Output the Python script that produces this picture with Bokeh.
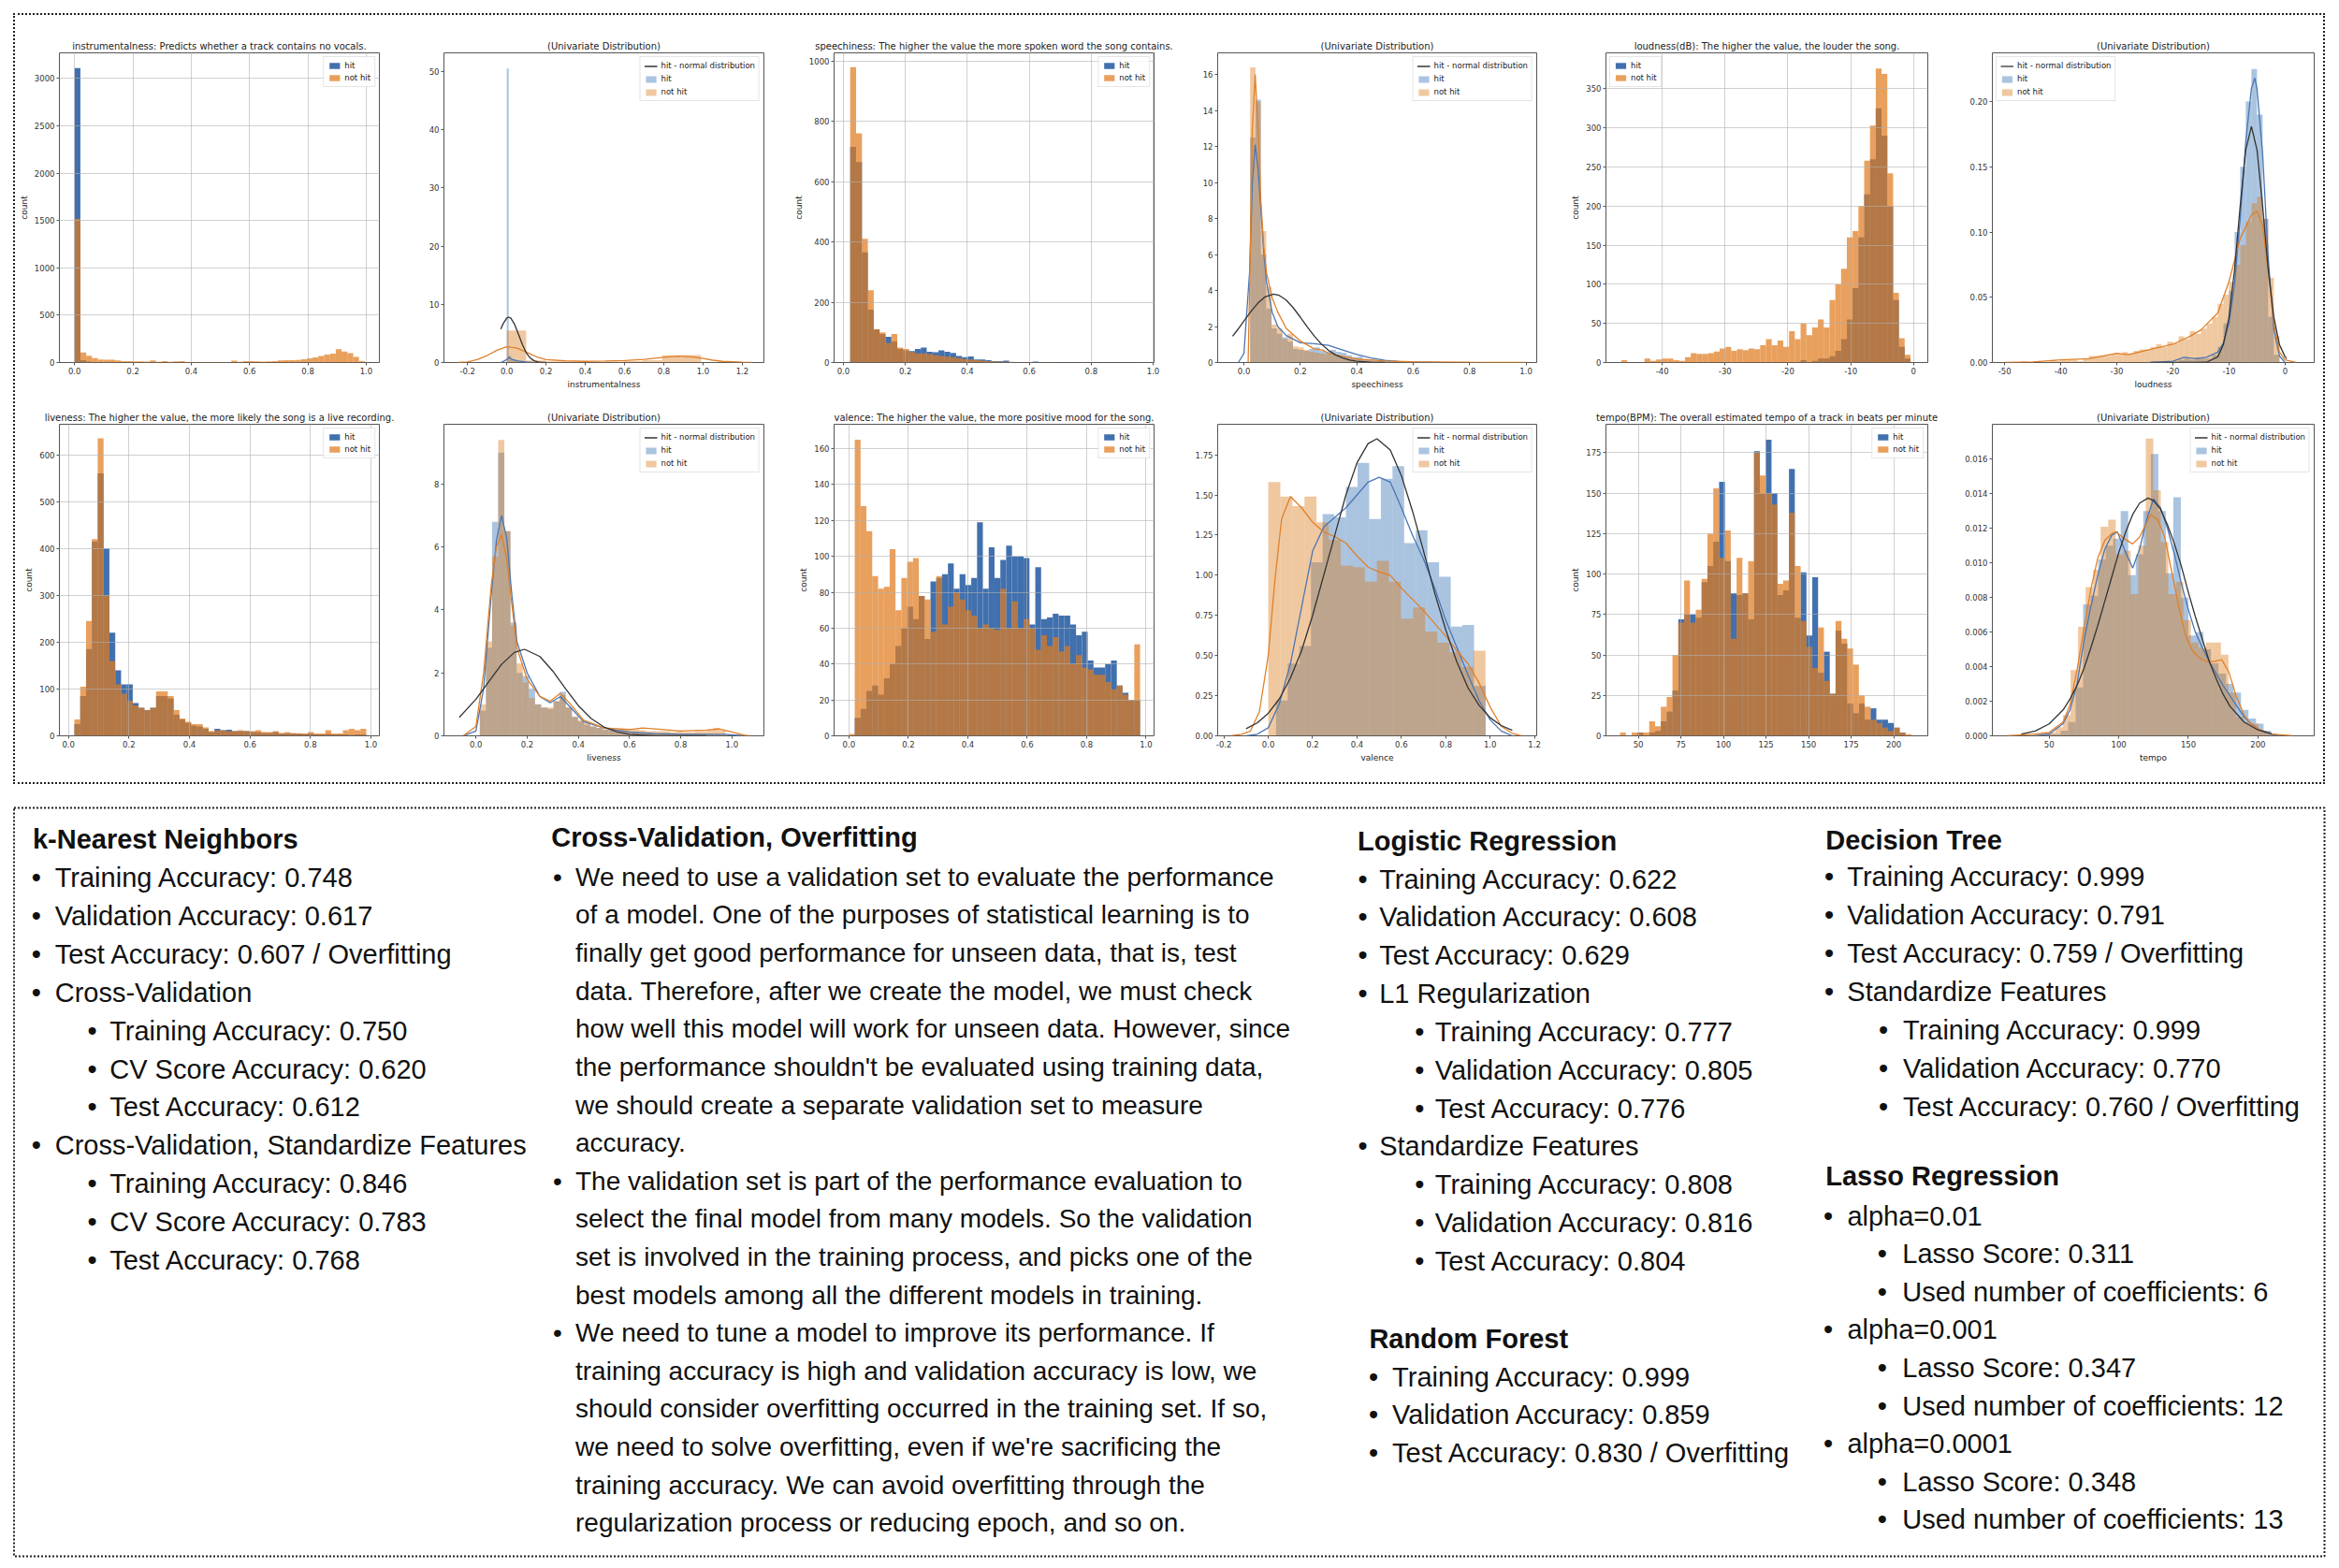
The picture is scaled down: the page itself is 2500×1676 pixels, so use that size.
import numpy as np
from bokeh.plotting import figure
from bokeh.layouts import column, row
from bokeh.models import Range1d, FixedTicker, PrintfTickFormatter, Legend, LegendItem, BoxAnnotation
from bokeh.core.properties import value
from bokeh.embed import file_html
from bokeh.resources import INLINE

# ------------------------------------------------------------------ texts
HIT, NOT_HIT, NORMAL = "hit", "not hit", "hit - normal distribution"
UNIV = "(Univariate Distribution)"
COUNT = "count"

# ------------------------------------------------------------------ instrumentalness
instr_title = "instrumentalness: Predicts whether a track contains no vocals."
instr_bins = (0.0, 0.0199)  # first edge, bin width
instr_hit = [3110, 25, 10, 6, 4, 3, 2, 2, 1, 1, 1, 1, 0, 1, 0, 0, 0, 0, 0, 0,
             0, 0, 0, 0, 0, 0, 0, 0, 0, 0, 0, 0, 0, 0, 0, 0, 0, 0, 0, 0,
             0, 0, 0, 0, 0, 0, 0, 0, 0, 0]
instr_not = [1520, 105, 72, 46, 33, 30, 30, 22, 15, 15, 12, 12, 10, 22, 8, 14, 8, 12, 14, 6,
             5, 5, 4, 4, 5, 4, 5, 20, 8, 15, 14, 12, 10, 12, 15, 22, 25, 25, 28, 35,
             45, 55, 70, 85, 95, 140, 115, 100, 60, 15]
instr_d_hit_bins = (0.0, 0.0099)
instr_d_hit = [50.5, 1.2, 0.7, 0.5, 0.4, 0.3, 0.2, 0.15, 0.1, 0.08, 0.05, 0.05]
instr_d_not_bins = (0.0, 0.099)
instr_d_not = [5.5, 0.35, 0.2, 0.12, 0.08, 0.15, 0.25, 0.4, 1.25, 1.3]
instr_kde_hit_x = [-0.03, 0.0, 0.01, 0.03, 0.06, 0.1, 0.13]
instr_kde_hit_y = [0, 0.5, 0.9, 0.5, 0.25, 0.08, 0]
instr_kde_not_x = [-0.25, -0.2, -0.15, -0.1, -0.05, 0.0, 0.05, 0.1, 0.15, 0.2, 0.3, 0.4, 0.5, 0.6,
                   0.7, 0.8, 0.87, 0.95, 1.0, 1.05, 1.1, 1.2, 1.25]
instr_kde_not_y = [0, 0.1, 0.5, 1.2, 2.1, 2.7, 2.5, 1.8, 1.0, 0.5, 0.28, 0.2, 0.25, 0.35,
                   0.55, 0.9, 1.1, 0.95, 0.7, 0.4, 0.2, 0.05, 0]
instr_norm_x = [-0.03, -0.02, 0.0, 0.01, 0.02, 0.04, 0.06, 0.08, 0.1, 0.12, 0.14, 0.16, 0.18, 0.2]
instr_norm_y = [5.73, 6.56, 7.65, 7.8, 7.65, 6.56, 4.83, 3.04, 1.64, 0.76, 0.30, 0.10, 0.03, 0.008]

# ------------------------------------------------------------------ speechiness
speech_title = "speechiness: The higher the value the more spoken word the song contains."
speech_bins = (0.022, 0.019)
speech_hit = [715, 665, 365, 175, 110, 95, 85, 70, 45, 40, 38, 45, 50, 36, 34, 40, 36, 32, 22, 18,
              20, 10, 10, 8, 5, 5, 6, 1, 1, 0, 0, 3, 0, 0, 0, 0, 0, 0, 0, 0,
              0, 0, 0, 0, 0, 0, 0, 0, 0, 0]
speech_not = [980, 760, 410, 240, 110, 100, 65, 95, 50, 45, 35, 30, 30, 28, 25, 22, 20, 18, 15, 12,
              10, 8, 6, 5, 4, 3, 2, 2, 1, 1, 1, 1, 1, 1, 1, 0, 0, 0, 0, 1,
              0, 0, 0, 0, 0, 0, 0, 0, 0, 1]
speech_d_bins = (0.022, 0.019)
speech_d_hit = [12.5, 14.6, 6.0, 3.0, 1.9, 1.6, 1.4, 1.15, 0.75, 0.7, 0.65, 0.75, 0.85, 0.65, 0.6,
                0.7, 0.6, 0.55, 0.4, 0.3, 0.33, 0.2, 0.17, 0.12, 0.08, 0.08, 0.05, 0.02, 0.02, 0.0]
speech_d_not = [16.4, 14.5, 7.3, 4.2, 2.1, 1.9, 1.3, 1.6, 0.9, 0.85, 0.7, 0.6, 0.55, 0.5, 0.45,
                0.4, 0.35, 0.3, 0.25, 0.22, 0.18, 0.14, 0.1, 0.08, 0.06, 0.05, 0.04, 0.03, 0.02, 0.02]
speech_kde_hit_x = [-0.02, 0.0, 0.02, 0.03, 0.04, 0.05, 0.06, 0.07, 0.08, 0.1, 0.12, 0.15, 0.2, 0.25,
                    0.3, 0.35, 0.4, 0.45, 0.5, 0.55, 0.6, 0.7]
speech_kde_hit_y = [0, 0.5, 5.0, 10.0, 12.1, 10.8, 8.5, 6.2, 4.5, 2.8, 2.0, 1.5, 1.1, 1.05,
                    0.95, 0.7, 0.45, 0.25, 0.12, 0.06, 0.03, 0]
speech_kde_not_x = [0.015, 0.02, 0.03, 0.04, 0.05, 0.06, 0.07, 0.08, 0.1, 0.12, 0.15, 0.2, 0.25,
                    0.28, 0.3, 0.35, 0.4, 0.5, 0.6, 0.8, 1.0]
speech_kde_not_y = [0, 4, 13, 16, 13, 9, 6.5, 5, 3.6, 2.8, 1.9, 1.2, 0.75, 0.7, 0.5, 0.35, 0.2,
                    0.08, 0.04, 0.015, 0]
speech_norm_x = [-0.04, -0.02, 0.0, 0.025, 0.05, 0.075, 0.105, 0.125, 0.15, 0.175, 0.2, 0.225, 0.25,
                 0.275, 0.3, 0.325, 0.35, 0.375, 0.4, 0.45, 0.5]
speech_norm_y = [1.46, 1.87, 2.3, 2.84, 3.31, 3.65, 3.8, 3.73, 3.47, 3.04, 2.52, 1.97, 1.46,
                 1.02, 0.67, 0.42, 0.25, 0.14, 0.072, 0.017, 0.003]

# ------------------------------------------------------------------ loudness
loud_title = "loudness(dB): The higher the value, the louder the song."
loud_bins = (-46.5, 0.92)
loud_hit = [0, 0, 0, 0, 0, 0, 0, 0, 0, 0, 0, 0, 0, 0, 0, 0, 0, 0, 0, 0,
            0, 0, 0, 0, 0, 0, 0, 0, 0, 0, 0, 3, 0, 2, 5, 5, 8, 15, 30, 55,
            95, 160, 215, 260, 325, 290, 200, 80, 20, 5]
loud_not = [3, 0, 0, 0, 5, 2, 4, 5, 5, 3, 2, 7, 12, 11, 11, 12, 14, 18, 20, 15,
            17, 16, 18, 17, 22, 30, 22, 28, 20, 40, 30, 50, 35, 45, 55, 45, 80, 100, 120, 160,
            168, 200, 258, 303, 376, 369, 242, 89, 31, 10]
loud_d_hit_bins = (-25.0, 1.0)
loud_d_hit = [0, 0, 0, 0, 0, 0, 0.002, 0.003, 0.002, 0.004, 0.003, 0.003, 0.006, 0.012, 0.03,
              0.055, 0.1, 0.15, 0.2, 0.225, 0.19, 0.11, 0.035, 0.006]
loud_d_not_bins = (-47.0, 1.0)
loud_d_not = [0.001, 0, 0, 0, 0, 0.002, 0.001, 0.002, 0.002, 0.002, 0.001, 0.003, 0.005, 0.005,
              0.005, 0.005, 0.006, 0.006, 0.008, 0.007, 0.009, 0.01, 0.01, 0.012, 0.014, 0.012,
              0.016, 0.015, 0.02, 0.018, 0.024, 0.022, 0.026, 0.03, 0.035, 0.045, 0.052, 0.062,
              0.075, 0.09, 0.108, 0.122, 0.127, 0.11, 0.065, 0.02]
loud_kde_hit_x = [-24, -20, -18, -16, -14, -12, -11, -10, -9, -8, -7, -6, -5.4, -5, -4, -3, -2, -1, 0]
loud_kde_hit_y = [0, 0.001, 0.004, 0.003, 0.004, 0.008, 0.015, 0.03, 0.06, 0.11, 0.17, 0.21, 0.218,
                  0.21, 0.16, 0.08, 0.025, 0.005, 0]
loud_kde_not_x = [-50, -45, -40, -35, -30, -28, -25, -20, -17, -15, -12, -10, -8, -6, -5, -4, -3, -2,
                  -1, 0, 2]
loud_kde_not_y = [0, 0.0005, 0.002, 0.003, 0.007, 0.006, 0.009, 0.014, 0.02, 0.025, 0.038, 0.062,
                  0.095, 0.113, 0.116, 0.105, 0.07, 0.03, 0.008, 0.002, 0]
loud_norm_x = [-24, -16, -14, -12, -11, -10, -9, -8, -7, -6, -5, -4, -3, -2, -1, 0, 0.3]
loud_norm_y = [0, 0.00001, 0.0002, 0.0044, 0.0137, 0.0347, 0.0713, 0.12, 0.163, 0.181, 0.163, 0.12,
               0.0713, 0.0347, 0.0137, 0.0044, 0.003]

# ------------------------------------------------------------------ liveness
live_title = "liveness: The higher the value, the more likely the song is a live recording."
live_bins = (0.0195, 0.0193)
live_hit = [25, 85, 185, 415, 560, 400, 220, 140, 110, 110, 70, 60, 55, 60, 85, 85, 80, 45, 35, 28,
            22, 20, 15, 8, 15, 12, 13, 10, 10, 10, 8, 8, 6, 6, 8, 5, 5, 5, 5, 4,
            5, 3, 3, 4, 3, 3, 3, 2, 3, 3]
live_not = [35, 105, 245, 420, 635, 300, 160, 110, 90, 75, 65, 60, 55, 60, 95, 95, 85, 55, 37, 30,
            25, 25, 18, 10, 12, 12, 10, 10, 12, 10, 10, 12, 8, 8, 10, 6, 8, 6, 5, 5,
            8, 5, 5, 12, 5, 5, 12, 15, 12, 15]
live_d_bins = (0.015, 0.024)
live_d_hit = [0.8, 2.8, 6.8, 9.0, 6.5, 3.6, 2.0, 1.9, 1.5, 1.0, 0.9, 0.85, 1.1, 1.4, 0.9, 0.6, 0.45,
              0.35, 0.3, 0.25, 0.2, 0.18, 0.15, 0.15, 0.12, 0.12, 0.1, 0.1, 0.08, 0.08, 0.08, 0.06,
              0.06, 0.05, 0.05, 0.05, 0.04, 0.04, 0.03, 0.03]
live_d_not = [1.0, 3.0, 5.7, 9.4, 6.5, 3.5, 2.3, 1.7, 1.2, 1.0, 0.9, 0.9, 1.1, 1.3, 0.9, 0.6, 0.5,
              0.4, 0.3, 0.25, 0.2, 0.2, 0.2, 0.2, 0.2, 0.2, 0.18, 0.15, 0.15, 0.15, 0.15, 0.12,
              0.15, 0.12, 0.12, 0.15, 0.15, 0.2, 0.25, 0.18]
live_kde_hit_x = [-0.05, 0.0, 0.03, 0.06, 0.08, 0.1, 0.12, 0.14, 0.16, 0.2, 0.25, 0.29, 0.33, 0.37,
                  0.42, 0.5, 0.6, 0.7, 0.8, 0.9, 0.97, 1.05]
live_kde_hit_y = [0, 0.15, 1.5, 4.5, 6.2, 7.0, 6.3, 4.5, 3.0, 2.0, 1.25, 1.05, 1.25, 0.9, 0.45, 0.25,
                  0.12, 0.07, 0.05, 0.05, 0.05, 0]
live_kde_not_x = [-0.05, 0.0, 0.03, 0.06, 0.08, 0.1, 0.12, 0.14, 0.16, 0.2, 0.25, 0.29, 0.33, 0.37,
                  0.42, 0.5, 0.6, 0.65, 0.7, 0.8, 0.9, 0.95, 1.0, 1.05, 1.07]
live_kde_not_y = [0, 0.3, 2.0, 4.8, 6.0, 6.4, 5.6, 4.2, 2.8, 1.8, 1.25, 1.1, 1.35, 1.0, 0.5, 0.25,
                  0.2, 0.25, 0.22, 0.15, 0.18, 0.22, 0.12, 0.02, 0]
live_norm_x = [-0.065, 0.0, 0.05, 0.1, 0.15, 0.19, 0.25, 0.3, 0.35, 0.4, 0.45, 0.5, 0.55, 0.6, 0.7,
               0.8, 0.9]
live_norm_y = [0.586, 1.165, 1.72, 2.27, 2.65, 2.75, 2.52, 2.06, 1.5, 0.96, 0.55, 0.28, 0.127, 0.05,
               0.006, 0.0004, 0]

# ------------------------------------------------------------------ valence
val_title = "valence: The higher the value, the more positive mood for the song."
val_bins = (0.0, 0.0196)
val_hit = [0, 10, 15, 25, 28, 23, 32, 40, 50, 60, 72, 65, 78, 54, 86, 88, 90, 96, 82, 90,
           84, 88, 119, 82, 105, 88, 98, 106, 100, 100, 99, 62, 94, 65, 66, 68, 67, 67, 62, 56,
           58, 42, 38, 38, 40, 42, 28, 24, 20, 20]
val_not = [1, 165, 128, 114, 89, 82, 83, 104, 70, 88, 97, 99, 78, 76, 58, 89, 62, 72, 80, 76,
           70, 67, 60, 62, 60, 59, 82, 60, 75, 60, 65, 60, 48, 56, 50, 55, 47, 50, 40, 45,
           38, 37, 34, 34, 30, 26, 28, 23, 20, 51]
val_d_hit_bins = (0.035, 0.0525)
val_d_hit = [0.22, 0.45, 0.56, 1.08, 1.38, 1.36, 1.55, 1.70, 1.35, 1.60, 1.68, 1.20, 1.28, 1.08,
             0.99, 0.68, 0.69, 0.31]
val_d_not_bins = (0.0, 0.0544)
val_d_not = [1.58, 1.49, 1.43, 1.49, 1.33, 1.22, 1.06, 1.05, 0.96, 1.09, 0.96, 0.73, 0.80, 0.65,
             0.58, 0.52, 0.43, 0.53]
val_kde_hit_x = [-0.1, -0.05, 0.0, 0.05, 0.1, 0.15, 0.2, 0.25, 0.3, 0.35, 0.4, 0.45, 0.5, 0.55, 0.6,
                 0.65, 0.7, 0.75, 0.8, 0.85, 0.9, 0.95, 1.0, 1.05, 1.1]
val_kde_hit_y = [0, 0.01, 0.05, 0.2, 0.45, 0.8, 1.15, 1.3, 1.36, 1.42, 1.5, 1.58, 1.61, 1.58, 1.42,
                 1.25, 1.1, 0.92, 0.72, 0.55, 0.38, 0.22, 0.1, 0.03, 0]
val_kde_not_x = [-0.17, -0.12, -0.08, -0.04, 0.0, 0.03, 0.06, 0.1, 0.15, 0.2, 0.25, 0.3, 0.35, 0.4,
                 0.45, 0.5, 0.55, 0.6, 0.65, 0.7, 0.75, 0.8, 0.85, 0.9, 0.95, 1.0, 1.05, 1.1, 1.14]
val_kde_not_y = [0, 0.01, 0.03, 0.15, 0.5, 0.97, 1.35, 1.49, 1.42, 1.33, 1.27, 1.24, 1.2, 1.12,
                 1.05, 1.02, 1.0, 0.92, 0.85, 0.78, 0.7, 0.62, 0.53, 0.45, 0.33, 0.18, 0.06, 0.015, 0]
val_norm_x = [-0.1, -0.05, 0.0, 0.05, 0.1, 0.15, 0.2, 0.25, 0.3, 0.35, 0.4, 0.45, 0.49, 0.55, 0.6,
              0.65, 0.7, 0.75, 0.8, 0.85, 0.9, 0.95, 1.0, 1.05, 1.1]
val_norm_y = [0.044, 0.08, 0.14, 0.23, 0.36, 0.53, 0.75, 1.0, 1.25, 1.5, 1.7, 1.82, 1.85, 1.78, 1.62,
              1.4, 1.15, 0.89, 0.66, 0.46, 0.30, 0.19, 0.113, 0.064, 0.034]

# ------------------------------------------------------------------ tempo
tempo_title = "tempo(BPM): The overall estimated tempo of a track in beats per minute"
tempo_bins = (39.3, 3.42)
tempo_hit = [0, 0, 0, 2, 0, 2, 3, 9, 15, 28, 72, 75, 75, 73, 95, 105, 120, 157, 108, 88,
             87, 88, 72, 176, 150, 183, 150, 87, 90, 165, 73, 101, 62, 98, 39, 52, 26, 65, 57, 20,
             14, 20, 10, 17, 10, 10, 8, 5, 2, 0]
tempo_not = [2, 0, 2, 2, 2, 9, 6, 18, 24, 50, 70, 96, 70, 78, 97, 125, 153, 110, 127, 60,
             110, 88, 108, 175, 161, 150, 143, 94, 96, 138, 105, 71, 55, 42, 67, 34, 26, 71, 60, 54,
             44, 25, 18, 10, 8, 5, 3, 5, 2, 1]
tempo_d_hit_bins = (42.0, 5.4)
tempo_d_hit = [0, 0.0001, 0.0001, 0.0003, 0.0008, 0.0028, 0.0076, 0.0081, 0.0102, 0.0110, 0.0114,
               0.0130, 0.0093, 0.0105, 0.0130, 0.0163, 0.0130, 0.0094, 0.0138, 0.0080, 0.0058,
               0.0060, 0.0050, 0.0042, 0.0036, 0.0030, 0.0025, 0.0015, 0.0010, 0.0007, 0.0003,
               0.0001]
tempo_d_not_bins = (38.4, 5.4)
tempo_d_not = [0.0001, 0.0002, 0.0002, 0.0005, 0.0012, 0.0038, 0.0063, 0.0086, 0.0096, 0.0121,
               0.0125, 0.0105, 0.0107, 0.0082, 0.0110, 0.0172, 0.0142, 0.0112, 0.0082, 0.0089,
               0.0067, 0.0054, 0.0051, 0.0054, 0.0054, 0.0047, 0.0025, 0.0011, 0.0008, 0.0007,
               0.0003, 0.0001]
tempo_kde_hit_x = [40, 50, 60, 65, 70, 75, 80, 85, 90, 95, 99, 104, 110, 115, 120, 125, 130, 135,
                   140, 145, 150, 155, 160, 165, 170, 175, 180, 185, 190, 195, 200, 205, 210, 215]
tempo_kde_hit_y = [0, 0.0001, 0.0007, 0.0015, 0.003, 0.0055, 0.0075, 0.0093, 0.0108, 0.0116, 0.0118,
                   0.0108, 0.0097, 0.0108, 0.0125, 0.0137, 0.0132, 0.012, 0.0105, 0.0088, 0.0073,
                   0.006, 0.0051, 0.0043, 0.0036, 0.0029, 0.0023, 0.0017, 0.0011, 0.0007, 0.0004,
                   0.0002, 0.0001, 0]
tempo_kde_not_x = [20, 40, 50, 60, 65, 70, 75, 80, 85, 90, 95, 98, 104, 110, 115, 118, 123, 128, 133,
                   138, 143, 148, 153, 158, 163, 168, 174, 179, 184, 190, 195, 200, 210, 225]
tempo_kde_not_y = [0, 0.0001, 0.0002, 0.0008, 0.0018, 0.0038, 0.0062, 0.0085, 0.0103, 0.0113,
                   0.0117, 0.0118, 0.0114, 0.0111, 0.0115, 0.012, 0.0128, 0.0125, 0.0115, 0.0095,
                   0.0075, 0.0058, 0.0049, 0.0045, 0.0043, 0.0043, 0.0044, 0.0037, 0.0024, 0.0012,
                   0.0007, 0.0004, 0.0001, 0]
tempo_norm_x = [30, 40, 50, 60, 65, 70, 75, 80, 85, 90, 95, 100, 105, 110, 115, 121, 125, 130, 135,
                140, 145, 150, 155, 160, 165, 170, 175, 180, 190, 200, 210]
tempo_norm_y = [0.0001, 0.00028, 0.00069, 0.0015, 0.00213, 0.0029, 0.0039, 0.0051, 0.0064, 0.0078,
                0.0092, 0.0106, 0.0118, 0.0128, 0.01346, 0.01375, 0.0136, 0.0131, 0.0122, 0.0111,
                0.0098, 0.0083, 0.0069, 0.0056, 0.0043, 0.0033, 0.0024, 0.0017, 0.0008, 0.00034,
                0.00012]

# ------------------------------------------------------------------ model summary texts
knn_head = "k-Nearest Neighbors"
knn_items = [(0, True, "Training Accuracy: 0.748"), (0, True, "Validation Accuracy: 0.617"),
             (0, True, "Test Accuracy: 0.607 / Overfitting"), (0, True, "Cross-Validation"),
             (1, True, "Training Accuracy: 0.750"), (1, True, "CV Score Accuracy: 0.620"),
             (1, True, "Test Accuracy: 0.612"), (0, True, "Cross-Validation, Standardize Features"),
             (1, True, "Training Accuracy: 0.846"), (1, True, "CV Score Accuracy: 0.783"),
             (1, True, "Test Accuracy: 0.768")]
cv_head = "Cross-Validation, Overfitting"
cv_items = [(0, True, "We need to use a validation set to evaluate the performance"),
            (0, False, "of a model. One of the purposes of statistical learning is to"),
            (0, False, "finally get good performance for unseen data, that is, test"),
            (0, False, "data. Therefore, after we create the model, we must check"),
            (0, False, "how well this model will work for unseen data. However, since"),
            (0, False, "the performance shouldn't be evaluated using training data,"),
            (0, False, "we should create a separate validation set to measure"),
            (0, False, "accuracy."),
            (0, True, "The validation set is part of the performance evaluation to"),
            (0, False, "select the final model from many models. So the validation"),
            (0, False, "set is involved in the training process, and picks one of the"),
            (0, False, "best models among all the different models in training."),
            (0, True, "We need to tune a model to improve its performance. If"),
            (0, False, "training accuracy is high and validation accuracy is low, we"),
            (0, False, "should consider overfitting occurred in the training set. If so,"),
            (0, False, "we need to solve overfitting, even if we're sacrificing the"),
            (0, False, "training accuracy. We can avoid overfitting through the"),
            (0, False, "regularization process or reducing epoch, and so on.")]
logreg_head = "Logistic Regression"
logreg_items = [(0, True, "Training Accuracy: 0.622"), (0, True, "Validation Accuracy: 0.608"),
                (0, True, "Test Accuracy: 0.629"), (0, True, "L1 Regularization"),
                (1, True, "Training Accuracy: 0.777"), (1, True, "Validation Accuracy: 0.805"),
                (1, True, "Test Accuracy: 0.776"), (0, True, "Standardize Features"),
                (1, True, "Training Accuracy: 0.808"), (1, True, "Validation Accuracy: 0.816"),
                (1, True, "Test Accuracy: 0.804")]
rf_head = "Random Forest"
rf_items = [(0, True, "Training Accuracy: 0.999"), (0, True, "Validation Accuracy: 0.859"),
            (0, True, "Test Accuracy: 0.830 / Overfitting")]
dt_head = "Decision Tree"
dt_items = [(0, True, "Training Accuracy: 0.999"), (0, True, "Validation Accuracy: 0.791"),
            (0, True, "Test Accuracy: 0.759 / Overfitting"), (0, True, "Standardize Features"),
            (1, True, "Training Accuracy: 0.999"), (1, True, "Validation Accuracy: 0.770"),
            (1, True, "Test Accuracy: 0.760 / Overfitting")]
lasso_head = "Lasso Regression"
lasso_items = [(0, True, "alpha=0.01"), (1, True, "Lasso Score: 0.311"),
               (1, True, "Used number of coefficients: 6"), (0, True, "alpha=0.001"),
               (1, True, "Lasso Score: 0.347"), (1, True, "Used number of coefficients: 12"),
               (0, True, "alpha=0.0001"), (1, True, "Lasso Score: 0.348"),
               (1, True, "Used number of coefficients: 13")]

# ------------------------------------------------------------------ styles
BLUE, ORANGE, ORANGE_ALPHA = "#4170AE", "#E07C1E", 0.72
D_BLUE, D_ORANGE, D_ALPHA = "#2B6BB1", "#D97511", 0.4
KDE_BLUE, KDE_ORANGE, NORM_C = "#4A76B2", "#E0802A", "#333333"
PLOT_FONT = "DejaVu Sans"
TEXT_FONT = "Liberation Sans"

CELL_W = [414, 390, 442, 388, 435, 398]
MBL = [47, 44, 71, 39, 66, 44]
FRAME_W = [342, 342, 342, 341, 344, 344]
ROW_H = [404, 416]
MBT = [[37, 37, 40, 39, 36, 36], [33, 33, 33, 33, 33, 33]]
MBB = [[33, 33, 33, 33, 33, 33], [49, 49, 50, 50, 47, 47]]


def edges(b, n):
    return [b[0] + b[1] * i for i in range(n + 1)]


def base_fig(ri, ci, xr, yr, title):
    p = figure(width=CELL_W[ci], height=ROW_H[ri], x_range=Range1d(*xr), y_range=Range1d(*yr),
               title=title, output_backend="svg", toolbar_location=None,
               min_border_left=MBL[ci], min_border_right=CELL_W[ci] - MBL[ci] - FRAME_W[ci],
               min_border_top=MBT[ri][ci], min_border_bottom=MBB[ri][ci])
    return p


def style_axes(p, xt, xf, yt, yf):
    p.xaxis.ticker = FixedTicker(ticks=xt)
    p.yaxis.ticker = FixedTicker(ticks=yt)
    p.xaxis.formatter = PrintfTickFormatter(format=xf)
    p.yaxis.formatter = PrintfTickFormatter(format=yf)
    p.axis.axis_line_color = None
    p.axis.major_tick_line_color = "#555555"
    p.axis.major_tick_out = 3
    p.axis.major_tick_in = 0
    p.axis.minor_tick_line_color = None
    p.axis.major_label_text_font = PLOT_FONT
    p.axis.major_label_text_font_size = "8.5px"
    p.axis.major_label_text_color = "#333333"
    p.axis.major_label_standoff = 2
    p.axis.axis_label_text_font = PLOT_FONT
    p.axis.axis_label_text_font_size = "9px"
    p.axis.axis_label_text_font_style = "normal"
    p.axis.axis_label_text_color = "#222222"
    p.axis.axis_label_standoff = 3
    p.outline_line_color = "#555555"
    p.outline_line_width = 1
    p.title.text_font = PLOT_FONT
    p.title.text_font_size = "10px"
    p.title.text_font_style = "normal"
    p.title.text_color = "#222222"
    p.title.align = "center"
    p.title.standoff = 3


def add_legend(p, items, loc, rows):
    h = 8 if rows == 2 else 9
    leg = Legend(items=items, location=loc, label_text_font=PLOT_FONT, label_text_font_size="8.5px",
                 label_text_color="#222222", glyph_height=h, glyph_width=14, label_height=h,
                 spacing=3 if rows == 2 else 4, padding=4, margin=4, label_standoff=4,
                 border_line_color="#cccccc", border_line_width=1, background_fill_alpha=0.85)
    p.add_layout(leg)


def hist_fig(ri, ci, f):
    p = base_fig(ri, ci, f["hx"], f["hy"], f["title"])
    e = edges(f["bins"], len(f["hit"]))
    r1 = p.quad(left=e[:-1], right=e[1:], bottom=0, top=f["hit"], fill_color=BLUE, fill_alpha=1.0,
                line_color=None)
    r2 = p.quad(left=e[:-1], right=e[1:], bottom=0, top=f["not"], fill_color=ORANGE,
                fill_alpha=ORANGE_ALPHA, line_color=None)
    style_axes(p, f["hxt"], f["hxf"], f["hyt"], f["hyf"])
    p.yaxis.axis_label = COUNT
    p.grid.grid_line_color = "#b0b0b0"
    p.grid.grid_line_alpha = 0.6
    p.grid.grid_line_width = 1
    p.grid.level = "guide"
    add_legend(p, [LegendItem(label=HIT, renderers=[r1]), LegendItem(label=NOT_HIT, renderers=[r2])],
               f["leg"], 2)
    return p


def dens_fig(ri, ci, f):
    p = base_fig(ri, ci, f["dx"], f["dy"], UNIV)
    eh = edges(f["dhb"], len(f["dh"]))
    en = edges(f["dnb"], len(f["dn"]))
    r1 = p.quad(left=eh[:-1], right=eh[1:], bottom=0, top=f["dh"], fill_color=D_BLUE,
                fill_alpha=D_ALPHA, line_color=None)
    r2 = p.quad(left=en[:-1], right=en[1:], bottom=0, top=f["dn"], fill_color=D_ORANGE,
                fill_alpha=D_ALPHA, line_color=None)
    p.line(f["kh"][0], f["kh"][1], line_color=KDE_BLUE, line_width=1.3)
    p.line(f["kn"][0], f["kn"][1], line_color=KDE_ORANGE, line_width=1.3)
    r0 = p.line(f["nm"][0], f["nm"][1], line_color=NORM_C, line_width=1.3)
    style_axes(p, f["dxt"], f["dxf"], f["dyt"], f["dyf"])
    p.xaxis.axis_label = f["name"]
    p.grid.visible = False
    add_legend(p, [LegendItem(label=NORMAL, renderers=[r0]), LegendItem(label=HIT, renderers=[r1]),
                   LegendItem(label=NOT_HIT, renderers=[r2])], f["leg"], 3)
    return p


T01 = [0.0, 0.2, 0.4, 0.6, 0.8, 1.0]
TM = [-0.2, 0.0, 0.2, 0.4, 0.6, 0.8, 1.0, 1.2]
features = [
    dict(name="instrumentalness", title=instr_title, bins=instr_bins, hit=instr_hit, **{"not": instr_not},
         hx=(-0.052, 1.045), hy=(0, 3270), hxt=T01, hxf="%.1f", hyt=list(range(0, 3001, 500)), hyf="%d",
         leg="top_right", dhb=instr_d_hit_bins, dh=instr_d_hit, dnb=instr_d_not_bins, dn=instr_d_not,
         kh=(instr_kde_hit_x, instr_kde_hit_y), kn=(instr_kde_not_x, instr_kde_not_y),
         nm=(instr_norm_x, instr_norm_y), dx=(-0.32, 1.31), dy=(0, 53.2), dxt=TM, dxf="%.1f",
         dyt=list(range(0, 51, 10)), dyf="%d"),
    dict(name="speechiness", title=speech_title, bins=speech_bins, hit=speech_hit, **{"not": speech_not},
         hx=(-0.03, 1.003), hy=(0, 1027), hxt=T01, hxf="%.1f", hyt=list(range(0, 1001, 200)), hyf="%d",
         leg="top_right", dhb=speech_d_bins, dh=speech_d_hit, dnb=speech_d_bins, dn=speech_d_not,
         kh=(speech_kde_hit_x, speech_kde_hit_y), kn=(speech_kde_not_x, speech_kde_not_y),
         nm=(speech_norm_x, speech_norm_y), dx=(-0.093, 1.038), dy=(0, 17.2), dxt=T01, dxf="%.1f",
         dyt=list(range(0, 17, 2)), dyf="%d"),
    dict(name="loudness", title=loud_title, bins=loud_bins, hit=loud_hit, **{"not": loud_not},
         hx=(-48.95, 2.26), hy=(0, 396), hxt=[-40, -30, -20, -10, 0], hxf="%d",
         hyt=list(range(0, 351, 50)), hyf="%d", leg="top_left",
         dhb=loud_d_hit_bins, dh=loud_d_hit, dnb=loud_d_not_bins, dn=loud_d_not,
         kh=(loud_kde_hit_x, loud_kde_hit_y), kn=(loud_kde_not_x, loud_kde_not_y),
         nm=(loud_norm_x, loud_norm_y), dx=(-52.2, 5.2), dy=(0, 0.2373),
         dxt=[-50, -40, -30, -20, -10, 0], dxf="%d", dyt=[0, 0.05, 0.10, 0.15, 0.20], dyf="%.2f"),
    dict(name="liveness", title=live_title, bins=live_bins, hit=live_hit, **{"not": live_not},
         hx=(-0.03, 1.028), hy=(0, 665), hxt=T01, hxf="%.1f", hyt=list(range(0, 601, 100)), hyf="%d",
         leg="top_right", dhb=live_d_bins, dh=live_d_hit, dnb=live_d_bins, dn=live_d_not,
         kh=(live_kde_hit_x, live_kde_hit_y), kn=(live_kde_not_x, live_kde_not_y),
         nm=(live_norm_x, live_norm_y), dx=(-0.125, 1.125), dy=(0, 9.9), dxt=T01, dxf="%.1f",
         dyt=[0, 2, 4, 6, 8], dyf="%d"),
    dict(name="valence", title=val_title, bins=val_bins, hit=val_hit, **{"not": val_not},
         hx=(-0.05, 1.027), hy=(0, 173.6), hxt=T01, hxf="%.1f", hyt=list(range(0, 161, 20)), hyf="%d",
         leg="top_right", dhb=val_d_hit_bins, dh=val_d_hit, dnb=val_d_not_bins, dn=val_d_not,
         kh=(val_kde_hit_x, val_kde_hit_y), kn=(val_kde_not_x, val_kde_not_y),
         nm=(val_norm_x, val_norm_y), dx=(-0.228, 1.21), dy=(0, 1.94), dxt=TM, dxf="%.1f",
         dyt=[0, 0.25, 0.5, 0.75, 1.0, 1.25, 1.5, 1.75], dyf="%.2f"),
    dict(name="tempo", title=tempo_title, bins=tempo_bins, hit=tempo_hit, **{"not": tempo_not},
         hx=(31, 220), hy=(0, 192.6), hxt=[50, 75, 100, 125, 150, 175, 200], hxf="%d",
         hyt=list(range(0, 176, 25)), hyf="%d", leg="top_right",
         dhb=tempo_d_hit_bins, dh=tempo_d_hit, dnb=tempo_d_not_bins, dn=tempo_d_not,
         kh=(tempo_kde_hit_x, tempo_kde_hit_y), kn=(tempo_kde_not_x, tempo_kde_not_y),
         nm=(tempo_norm_x, tempo_norm_y), dx=(9.2, 240.4), dy=(0, 0.01802),
         dxt=[50, 100, 150, 200], dxf="%d",
         dyt=[0, 0.002, 0.004, 0.006, 0.008, 0.010, 0.012, 0.014, 0.016], dyf="%.3f"),
]

rows = []
for ri in range(2):
    figs = []
    for k in range(3):
        f = features[ri * 3 + k]
        figs.append(hist_fig(ri, 2 * k, f))
        figs.append(dens_fig(ri, 2 * k + 1, f))
    rows.append(row(*figs, spacing=0))

top = column(*rows, spacing=0, margin=(16, 0, 2, 16),
             styles={"outline": "2px dotted #222222", "outline-offset": "0px"})

# ------------------------------------------------------------------ text panel
TW, TH = 2500, 838
tp = figure(width=TW, height=TH, x_range=Range1d(0, TW), y_range=Range1d(TH, 0),
            output_backend="svg", toolbar_location=None, min_border=0,
            x_axis_location=None, y_axis_location=None)
tp.xgrid.visible = False
tp.ygrid.visible = False
tp.outline_line_color = None
tp.add_layout(BoxAnnotation(left=14.5, right=2484, top=25, bottom=825, fill_alpha=0,
                            line_color="#222222", line_alpha=1.0, line_width=2, line_dash="2 2"))


def draw_block(head, hx, hy, items, y0, step, bx, tx, fs="29px"):
    tp.text(x=[hx], y=[hy], text=[head], text_font=value(TEXT_FONT), text_font_size="29px",
            text_font_style="bold", text_baseline="middle", text_align="left", text_color="#111111")
    bxs, bys, txs, tys, ts = [], [], [], [], []
    for i, (lvl, bul, t) in enumerate(items):
        y = y0 + i * step
        if bul:
            bxs.append(bx[lvl]); bys.append(y)
        txs.append(tx[lvl]); tys.append(y); ts.append(t)
    tp.text(x=bxs, y=bys, text=["\u2022"] * len(bxs), text_font=value(TEXT_FONT), text_font_size=fs,
            text_baseline="middle", text_align="left", text_color="#111111")
    tp.text(x=txs, y=tys, text=ts, text_font=value(TEXT_FONT), text_font_size=fs,
            text_baseline="middle", text_align="left", text_color="#111111")


draw_block(knn_head, 34.4, 58.6, knn_items, 99.5, 40.9, [33.3, 93.0], [58.2, 116.7])
draw_block(cv_head, 588.7, 56.3, cv_items, 98.8, 40.62, [590.6], [614.5], fs="28px")
draw_block(logreg_head, 1450.5, 60.5, logreg_items, 101.1, 40.84, [1451.0, 1511.8], [1473.7, 1533.3])
draw_block(rf_head, 1462.9, 592.0, rf_items, 633.4, 40.5, [1462.6], [1487.6])
draw_block(dt_head, 1950.7, 59.0, dt_items, 98.5, 41.0, [1949.5, 2007.4], [1973.8, 2033.5])
draw_block(lasso_head, 1950.7, 418.5, lasso_items, 461.0, 40.6, [1948.5, 2006.3], [1973.9, 2032.8])

layout = column(top, tp, spacing=0)
open("out.html", "w").write(file_html(layout, INLINE))
